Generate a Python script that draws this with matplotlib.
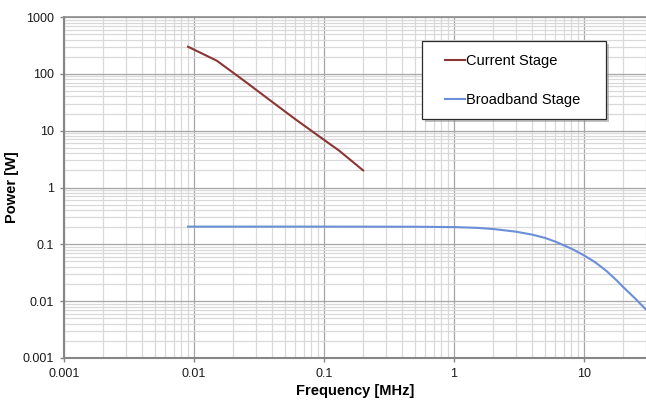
import numpy as np
import matplotlib
matplotlib.use("Agg")
import matplotlib.pyplot as plt
import matplotlib.patches as mpatches
from matplotlib.ticker import LogLocator, FixedLocator, FixedFormatter, NullFormatter

plt.rcParams["font.family"] = ["Liberation Sans", "DejaVu Sans"]

# ── data ──────────────────────────────────────────────────────
current_freq = [0.009, 0.015, 0.025, 0.04, 0.06, 0.1, 0.13, 0.2]
current_power = [300, 170, 72, 32, 16, 6.9, 4.5, 2.0]

broadband_freq = [0.009, 0.1, 0.5, 1.0, 1.5, 2.0, 3.0, 4.0, 5.0, 6.0, 7.0, 8.0, 9.0, 10.0,
                  12.0, 13.5, 15.0, 17.5, 20.0, 25.0, 30.0]
broadband_power = [0.205, 0.205, 0.204, 0.201, 0.195, 0.186, 0.167, 0.148, 0.13, 0.112,
                   0.096, 0.084, 0.073, 0.064, 0.0495, 0.0405, 0.0335, 0.0242, 0.0178,
                   0.0109, 0.0071]

x_ticks = [0.001, 0.01, 0.1, 1, 10]
x_ticklabels = ["0.001", "0.01", "0.1", "1", "10"]
y_ticks = [0.001, 0.01, 0.1, 1, 10, 100, 1000]
y_ticklabels = ["0.001", "0.01", "0.1", "1", "10", "100", "1000"]

W, H = 646, 405
fig = plt.figure(figsize=(W / 100, H / 100), dpi=100)
ax = fig.add_axes([64 / W, 47 / H, 582 / W, 341 / H])

ax.set_xscale("log")
ax.set_yscale("log")
ax.set_xlim(0.001, 30)
ax.set_ylim(0.001, 1000)

ax.plot(current_freq, current_power, color="#8c3535", lw=1.5, label="Current Stage", zorder=3)
ax.plot(broadband_freq, broadband_power, color="#6a8fd8", lw=1.5, label="Broadband Stage", zorder=3)

# ── ticks / grid ──────────────────────────────────────────────
ax.xaxis.set_major_locator(FixedLocator(x_ticks))
ax.xaxis.set_major_formatter(FixedFormatter(x_ticklabels))
ax.yaxis.set_major_locator(FixedLocator(y_ticks))
ax.yaxis.set_major_formatter(FixedFormatter(y_ticklabels))
for axis in (ax.xaxis, ax.yaxis):
    axis.set_minor_locator(LogLocator(base=10, subs=np.arange(2, 10), numticks=50))
    axis.set_minor_formatter(NullFormatter())

ax.tick_params(which="major", length=3, width=1, color="#868686", labelsize=9, labelcolor="#1a1a1a")
ax.tick_params(axis="x", which="major", pad=4)
ax.tick_params(axis="y", which="major", pad=4)
ax.tick_params(which="minor", length=0)

ax.grid(True, which="minor", color="#d9d9d9", lw=0.9)
ax.grid(True, which="major", color="#a6a6a6", lw=0.9)
ax.set_axisbelow(True)

ax.spines["right"].set_visible(False)
ax.spines["top"].set_color("#8c8c8c")
ax.spines["top"].set_linewidth(1.2)
for s in ("left", "bottom"):
    ax.spines[s].set_color("#868686")
    ax.spines[s].set_linewidth(1.5)

# ── axis labels ───────────────────────────────────────────────
fig.text(355 / W, 1 - 391 / H, "Frequency [MHz]", ha="center", va="center",
         fontsize=10.5, fontweight="bold")
fig.text(12 / W, 1 - 187.5 / H, "Power [W]", ha="center", va="center",
         rotation=90, fontsize=10.5, fontweight="bold")

# ── legend box with drop shadow ───────────────────────────────
bx, by, bw, bh = 422 / W, 1 - 119 / H, 184 / W, 78 / H
shadow = mpatches.Rectangle((bx + 3 / W, by - 3 / H), bw, bh, transform=fig.transFigure,
                            facecolor="#9a9a9a", edgecolor="none", alpha=0.6,
                            zorder=4, clip_on=False)
box = mpatches.Rectangle((bx, by), bw, bh, transform=fig.transFigure,
                         facecolor="white", edgecolor="#2b2b2b", lw=0.9,
                         zorder=5, clip_on=False)
ax.add_artist(shadow)
ax.add_artist(box)

leg = ax.legend(loc="upper left", bbox_to_anchor=(445 / W, 1 - 54 / H),
                bbox_transform=fig.transFigure, frameon=False, fontsize=10.5,
                borderpad=0, borderaxespad=0, handlelength=1.35, handletextpad=0.1,
                labelspacing=1.7)
leg.set_zorder(6)

fig.savefig("out.png", dpi=100)
